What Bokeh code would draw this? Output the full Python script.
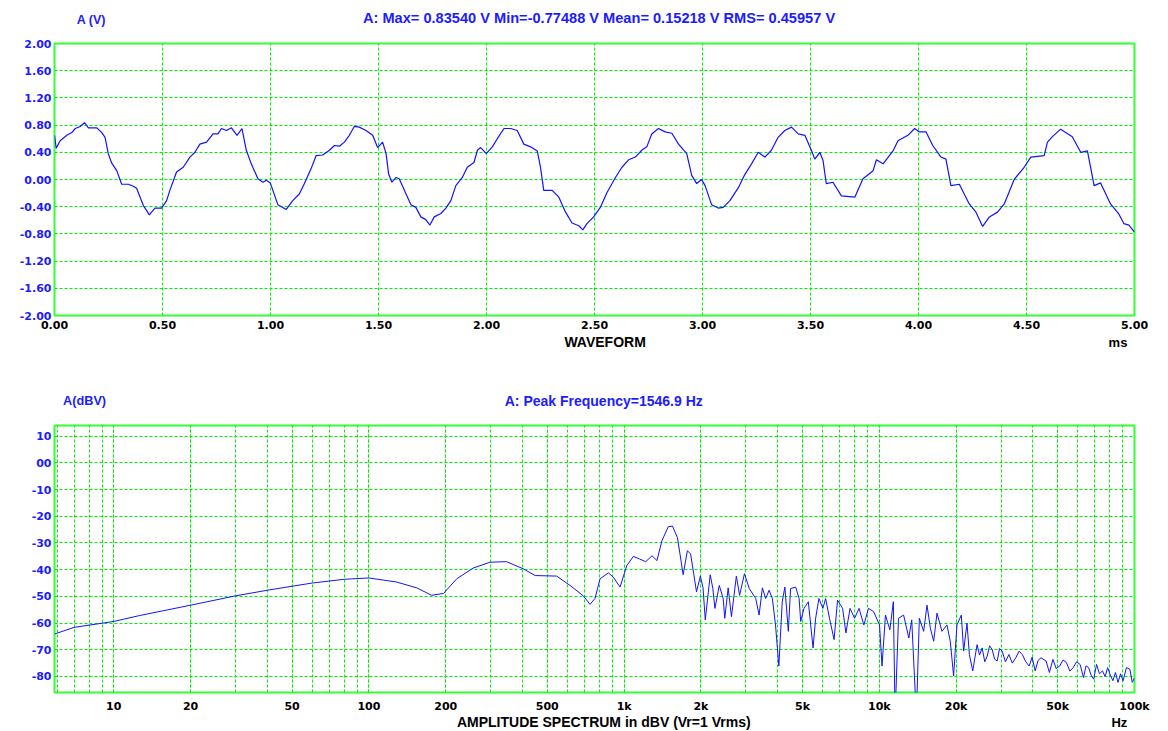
from bokeh.plotting import figure
from bokeh.layouts import column
from bokeh.models import FixedTicker, Range1d
from bokeh.core.properties import value
from bokeh.embed import file_html
from bokeh.resources import INLINE

# ---- waveform channel A (time in ms, amplitude in V) ----
wave_t = [0.000, 0.008, 0.026, 0.057, 0.080, 0.096, 0.119, 0.139, 0.157, 0.196,
          0.219, 0.234, 0.249, 0.265, 0.288, 0.311, 0.342, 0.365, 0.380, 0.411,
          0.439, 0.465, 0.496, 0.519, 0.534, 0.565, 0.596, 0.627, 0.650, 0.673,
          0.704, 0.734, 0.757, 0.773, 0.796, 0.819, 0.845, 0.868, 0.888, 0.911,
          0.942, 0.965, 0.981, 0.999, 1.011, 1.034, 1.073, 1.103, 1.134, 1.157,
          1.188, 1.211, 1.242, 1.273, 1.296, 1.319, 1.342, 1.365, 1.388, 1.411,
          1.442, 1.473, 1.496, 1.519, 1.535, 1.547, 1.562, 1.581, 1.596, 1.627,
          1.650, 1.673, 1.696, 1.719, 1.738, 1.758, 1.789, 1.812, 1.835, 1.858,
          1.888, 1.911, 1.942, 1.958, 1.973, 1.999, 2.027, 2.050, 2.081, 2.112,
          2.142, 2.173, 2.204, 2.235, 2.250, 2.265, 2.304, 2.335, 2.366, 2.396,
          2.427, 2.446, 2.465, 2.496, 2.527, 2.558, 2.597, 2.627, 2.658, 2.689,
          2.719, 2.742, 2.765, 2.796, 2.827, 2.858, 2.889, 2.927, 2.950, 2.973,
          2.996, 3.012, 3.042, 3.073, 3.096, 3.127, 3.166, 3.197, 3.227, 3.258,
          3.289, 3.319, 3.350, 3.381, 3.412, 3.443, 3.474, 3.504, 3.520, 3.543,
          3.558, 3.573, 3.604, 3.643, 3.705, 3.743, 3.790, 3.805, 3.836, 3.882,
          3.905, 3.951, 3.982, 4.005, 4.035, 4.066, 4.104, 4.127, 4.150, 4.189,
          4.235, 4.266, 4.297, 4.328, 4.366, 4.397, 4.443, 4.489, 4.520, 4.582,
          4.597, 4.620, 4.658, 4.712, 4.751, 4.782, 4.813, 4.843, 4.889, 4.928,
          4.951, 4.974, 5.000]
wave_v = [0.65, 0.46, 0.57, 0.65, 0.69, 0.75, 0.78, 0.835, 0.76, 0.76,
          0.69, 0.62, 0.38, 0.24, 0.13, -0.07, -0.07, -0.10, -0.13, -0.38,
          -0.52, -0.42, -0.42, -0.31, -0.16, 0.11, 0.18, 0.33, 0.40, 0.52,
          0.55, 0.67, 0.67, 0.75, 0.72, 0.76, 0.65, 0.75, 0.43, 0.23,
          0.01, -0.04, -0.01, -0.05, -0.16, -0.37, -0.44, -0.31, -0.21, -0.06,
          0.16, 0.35, 0.36, 0.43, 0.50, 0.49, 0.55, 0.65, 0.78, 0.77,
          0.72, 0.65, 0.47, 0.55, 0.38, 0.08, -0.04, 0.03, 0.01, -0.21,
          -0.37, -0.41, -0.55, -0.59, -0.67, -0.55, -0.50, -0.42, -0.31, -0.09,
          0.03, 0.18, 0.25, 0.43, 0.47, 0.38, 0.48, 0.60, 0.75, 0.75,
          0.72, 0.52, 0.48, 0.42, 0.18, -0.16, -0.16, -0.26, -0.48, -0.64,
          -0.68, -0.74, -0.65, -0.55, -0.41, -0.19, 0.03, 0.18, 0.29, 0.33,
          0.43, 0.48, 0.67, 0.75, 0.70, 0.68, 0.52, 0.38, 0.06, -0.06,
          0.00, -0.09, -0.37, -0.42, -0.41, -0.31, -0.12, 0.08, 0.23, 0.40,
          0.33, 0.43, 0.62, 0.72, 0.77, 0.67, 0.65, 0.43, 0.30, 0.40,
          0.28, -0.06, -0.04, -0.24, -0.26, 0.01, 0.13, 0.29, 0.23, 0.42,
          0.57, 0.65, 0.75, 0.70, 0.70, 0.50, 0.33, 0.30, -0.09, -0.07,
          -0.36, -0.48, -0.69, -0.55, -0.48, -0.36, 0.00, 0.18, 0.33, 0.35,
          0.55, 0.63, 0.74, 0.63, 0.40, 0.42, -0.09, -0.05, -0.36, -0.51,
          -0.65, -0.67, -0.775]

# ---- amplitude spectrum channel A (Hz, dBV) ----
spec_f = [5.86, 7, 10, 12.6, 20, 30, 40, 50, 60, 80,
          100, 128, 154, 176, 196, 221, 256, 298, 346, 403,
          448, 544, 614, 692, 735, 769, 805, 868, 907, 964,
          1024, 1087, 1150, 1215, 1287, 1345, 1406, 1490, 1547, 1618,
          1667, 1703, 1770, 1822, 1878, 1922, 1990, 2038, 2080, 2175,
          2227, 2269, 2360, 2445, 2480, 2557, 2634, 2753, 2835, 2962,
          3094, 3280, 3380, 3482, 3586, 3700, 3810, 3920, 4040, 4165,
          4265, 4400, 4490, 4700, 4850, 4920, 5070, 5270, 5500, 5630,
          5800, 6010, 6160, 6380, 6650, 6860, 7180, 7400, 7680, 8000,
          8330, 8700, 9070, 9500, 10020, 10250, 10570, 11000, 11350, 11530,
          11890, 12450, 13050, 13400, 13970, 14350, 14920, 15380, 15850, 16330,
          16830, 17600, 18410, 18970, 19550, 20150, 20960, 21400, 22060, 22540,
          23230, 24160, 24700, 25290, 25900, 26460, 27050, 27690, 28300, 28970,
          29600, 30300, 31200, 32200, 33200, 34260, 35300, 36350, 37500, 38650,
          39700, 40820, 41900, 43010, 45020, 46400, 47900, 49300, 50900, 52500,
          54100, 55800, 57500, 59300, 61200, 63100, 64600, 66100, 67600, 69200,
          71000, 72900, 74900, 76700, 78500, 80400, 82300, 84200, 86200, 88200,
          90200, 93000, 95900, 98000, 100000]
spec_db = [-64.1, -61.6, -59.4, -57.2, -53.3, -49.8, -47.7, -46.2, -45.0, -43.6,
           -43.1, -44.6, -46.8, -49.6, -48.9, -43.4, -39.4, -37.2, -37.0, -39.7,
           -42.2, -42.4, -45.9, -49.8, -53.0, -50.8, -43.4, -41.2, -42.8, -46.5,
           -38.5, -35.0, -36.0, -37.0, -34.8, -36.6, -29.2, -23.9, -23.7, -28.0,
           -36.0, -41.9, -32.9, -34.1, -42.2, -48.3, -42.4, -46.8, -58.8, -41.9,
           -47.1, -54.5, -45.9, -50.8, -58.2, -46.8, -57.6, -42.4, -49.6, -41.5,
           -47.1, -50.8, -57.0, -46.8, -50.8, -47.7, -50.8, -60.7, -76.1, -52.0,
           -46.5, -63.1, -47.1, -46.5, -50.8, -59.4, -54.5, -52.0, -69.3, -58.2,
           -50.8, -54.5, -50.8, -58.2, -66.2, -51.4, -54.5, -63.7, -54.5, -58.2,
           -54.5, -60.7, -54.5, -55.7, -60.7, -76.1, -57.0, -62.5, -52.0, -95.0,
           -58.2, -57.0, -65.6, -58.8, -95.0, -58.2, -63.1, -53.3, -61.9, -66.8,
           -56.3, -63.1, -60.7, -66.8, -79.8, -60.7, -57.0, -70.5, -60.0, -71.8,
           -77.9, -68.1, -72.0, -69.3, -74.5, -72.4, -68.5, -69.9, -73.5, -74.2,
           -69.5, -70.5, -74.5, -71.8, -75.0, -73.0, -70.5, -71.8, -74.5, -76.1,
           -72.8, -77.9, -74.0, -73.0, -74.2, -78.5, -73.6, -77.0, -76.1, -73.8,
           -74.8, -78.0, -76.7, -74.5, -75.5, -80.4, -76.0, -76.7, -79.5, -81.0,
           -75.5, -79.0, -77.9, -80.0, -76.7, -79.5, -81.6, -78.5, -82.2, -79.0,
           -81.6, -76.7, -77.3, -82.2, -80.5]

wave_yticks = [-2.0, -1.6, -1.2, -0.8, -0.4, 0.0, 0.4, 0.8, 1.2, 1.6, 2.0]
wave_xticks = [0.0, 0.5, 1.0, 1.5, 2.0, 2.5, 3.0, 3.5, 4.0, 4.5, 5.0]
spec_yticks = [10, 0, -10, -20, -30, -40, -50, -60, -70, -80]
spec_ylabels = ["10", "00", "-10", "-20", "-30", "-40", "-50", "-60", "-70", "-80"]
spec_xticks = [10, 20, 50, 100, 200, 500, 1000, 2000, 5000, 10000, 20000, 50000, 100000]
spec_xlabels = ["10", "20", "50", "100", "200", "500", "1k", "2k", "5k",
                "10k", "20k", "50k", "100k"]
spec_minor = [m * 10 ** d for d in range(0, 5) for m in range(1, 10)
              if 5.86 <= m * 10 ** d <= 100000]

title_wave = "A: Max= 0.83540 V  Min=-0.77488 V  Mean= 0.15218 V  RMS= 0.45957 V"
title_spec = "A: Peak Frequency=1546.9 Hz"

TICK_FONT = "DejaVu Sans"
TEXT_FONT = "Liberation Sans"
BLUE_TXT = "#1c1cff"
TRACE = "#1212ff"
GRID = "#00ee00"
FRAME = "#33ff33"
WIDTH = 1168
LIFT = 5  # the band text sits this many pixels below its anchor


def style(p, standoff):
    p.background_fill_color = "white"
    p.border_fill_color = "white"
    p.outline_line_color = FRAME
    p.outline_line_width = 2
    for ax in (p.xaxis[0], p.yaxis[0]):
        ax.axis_line_color = None
        ax.major_tick_line_color = None
        ax.minor_tick_line_color = None
        ax.major_tick_in = 0
        ax.major_tick_out = 0
        ax.minor_tick_in = 0
        ax.minor_tick_out = 0
        ax.major_label_text_font = TICK_FONT
        ax.major_label_text_font_style = "bold"
        ax.major_label_text_font_size = "11px"
    p.xaxis[0].major_label_text_color = "black"
    p.yaxis[0].major_label_text_color = BLUE_TXT
    p.xaxis[0].major_label_standoff = standoff
    p.yaxis[0].major_label_standoff = 3
    for g in (p.xgrid[0], p.ygrid[0]):
        g.grid_line_color = GRID
        g.grid_line_dash = "3 2"
        g.grid_line_width = 1


def strip(h):
    """A plain text band: its frame fills the band, x and y are pixels (y down)."""
    s = figure(width=WIDTH, height=h, x_range=Range1d(0, WIDTH), y_range=Range1d(h, 0),
               x_axis_location=None, y_axis_location=None, output_backend="svg",
               toolbar_location=None, min_border=0, title=None)
    s.grid.visible = False
    s.outline_line_color = None
    s.background_fill_color = "white"
    s.border_fill_color = "white"
    return s


def put(s, x, y, txt, align="left", color=BLUE_TXT, size="14px"):
    s.text(x=[x], y=[y - LIFT], text=[txt], text_font=value(TEXT_FONT),
           text_font_style="bold", text_font_size=size, text_color=color,
           text_align=align, text_baseline="alphabetic")


# ---------- header band (canvas rows 0..30) ----------
s1 = strip(30)
put(s1, 24, 24, "A (V)", size="12.5px")
put(s1, 595.5, 22.7, title_wave, align="center", size="14.6px")

# ---------- waveform (canvas rows 30..333) ----------
p1 = figure(width=WIDTH, height=303, x_range=Range1d(0, 5), y_range=Range1d(-2, 2),
            output_backend="svg", toolbar_location=None, title=None,
            min_border_left=54, min_border_right=31, min_border_top=13, min_border_bottom=18)
style(p1, 5)
p1.xaxis.ticker = FixedTicker(ticks=wave_xticks)
p1.yaxis.ticker = FixedTicker(ticks=wave_yticks)
p1.xaxis.major_label_overrides = {t: f"{t:.2f}" for t in wave_xticks}
p1.yaxis.major_label_overrides = {t: f"{t:.2f}" for t in wave_yticks}
p1.line(wave_t, wave_v, line_color=TRACE, line_width=1.2)

# ---------- band between the two plots (canvas rows 333..415) ----------
s2 = strip(82)
put(s2, 595.5, 13.3, "WAVEFORM", align="center", color="black")
put(s2, 1140, 13.5, "ms", color="black", size="13px")
put(s2, 9.3, 72.3, "A(dBV)", size="12.7px")
put(s2, 594, 72.3, title_spec, align="center")

# ---------- spectrum (canvas rows 415..715) ----------
p2 = figure(width=WIDTH, height=300, x_axis_type="log",
            x_range=Range1d(5.86, 100000), y_range=Range1d(-86, 14),
            output_backend="svg", toolbar_location=None, title=None,
            min_border_left=54, min_border_right=34, min_border_top=10, min_border_bottom=20)
style(p2, 7)
p2.xaxis.ticker = FixedTicker(ticks=spec_xticks, minor_ticks=spec_minor)
p2.yaxis.ticker = FixedTicker(ticks=spec_yticks)
p2.xaxis.major_label_overrides = dict(zip(spec_xticks, spec_xlabels))
p2.yaxis.major_label_overrides = dict(zip(spec_yticks, spec_ylabels))
p2.xgrid.minor_grid_line_color = GRID
p2.xgrid.minor_grid_line_dash = "3 2"
p2.xgrid.minor_grid_line_width = 1
p2.line(spec_f, spec_db, line_color=TRACE, line_width=1)

# ---------- footer band (canvas rows 715..731) ----------
s3 = strip(16)
put(s3, 594, 11.7, "AMPLITUDE SPECTRUM in dBV (Vr=1 Vrms)", align="center", color="black")
put(s3, 1143, 12, "Hz", color="black", size="13px")

page = column(s1, p1, s2, p2, s3, spacing=0)
open("out.html", "w").write(file_html(page, INLINE))
